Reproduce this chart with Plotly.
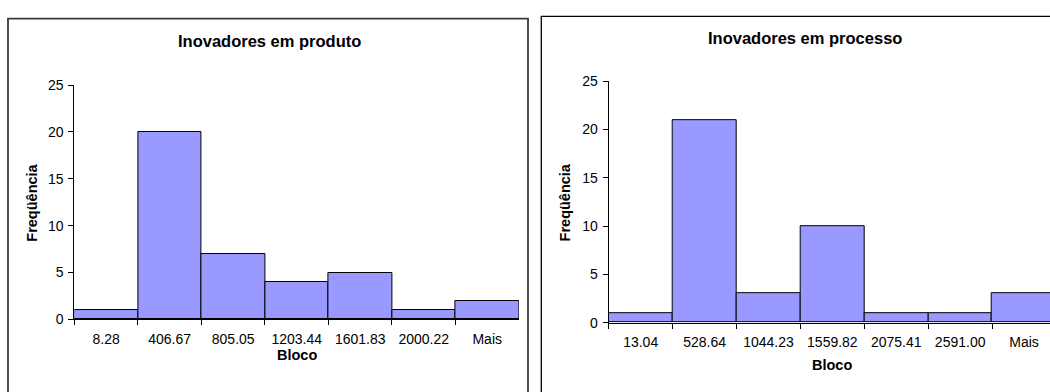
import plotly.graph_objects as go

# ---- data ----
blocos_produto = ["8.28", "406.67", "805.05", "1203.44", "1601.83", "2000.22", "Mais"]
freq_produto = [1, 20, 7, 4, 5, 1, 2]

blocos_processo = ["13.04", "528.64", "1044.23", "1559.82", "2075.41", "2591.00", "Mais"]
freq_processo = [1, 21, 3, 10, 1, 1, 3]

titulo_produto = "Inovadores em produto"
titulo_processo = "Inovadores em processo"
x_label = "Bloco"
y_label = "Freqüência"
y_ticks = [0, 5, 10, 15, 20, 25]

W, H = 1050, 392
FONT = "Liberation Sans, Arial, sans-serif"
BAR = "#9999FF"


def px(x):
    return x / W


def py(y):
    return (H - y) / H


fig = go.Figure()
fig.add_trace(go.Bar(x=blocos_produto, y=freq_produto, xaxis="x", yaxis="y",
                     marker=dict(color=BAR, line=dict(color="black", width=1)),
                     width=1, showlegend=False, hoverinfo="x+y"))
fig.add_trace(go.Bar(x=blocos_processo, y=freq_processo, xaxis="x2", yaxis="y2",
                     marker=dict(color=BAR, line=dict(color="black", width=1)),
                     width=1, showlegend=False, hoverinfo="x+y"))

xcommon = dict(type="category", tickson="boundaries", ticks="outside", ticklen=5,
               tickcolor="black", showline=True, linecolor="black", linewidth=1,
               showgrid=False, zeroline=False, fixedrange=True, ticklabelstandoff=7,
               tickfont=dict(family=FONT, size=14, color="black"))
ycommon = dict(range=[0, 25], tickvals=y_ticks, ticks="outside", ticklen=5,
               tickcolor="black", showline=True, linecolor="black", linewidth=1,
               showgrid=False, zeroline=False, fixedrange=True, ticklabelstandoff=2,
               tickfont=dict(family=FONT, size=14, color="black"))
yinner = dict(range=[0, 25], tickvals=y_ticks, ticks="inside", ticklen=4,
              tickcolor="black", showline=False, showgrid=False, zeroline=False,
              showticklabels=False, fixedrange=True)

fig.update_layout(
    width=W, height=H,
    margin=dict(l=0, r=0, t=0, b=0),
    paper_bgcolor="white", plot_bgcolor="white",
    bargap=0,
    font=dict(family=FONT, color="black"),
    xaxis=dict(domain=[px(74.4), px(519)], range=[-0.5, 6.5], anchor="y", **xcommon),
    yaxis=dict(domain=[py(324.7), py(80.3)], anchor="x", **ycommon),
    xaxis2=dict(domain=[px(608.7), 1.0], range=[-0.5, 6.406], anchor="y2", **xcommon),
    yaxis2=dict(domain=[py(328), py(76.3)], anchor="x2", **ycommon),
    yaxis3=dict(overlaying="y", anchor="x", side="left", **yinner),
    yaxis4=dict(overlaying="y2", anchor="x2", side="left", **yinner),
)

# chart frames
fig.add_shape(type="rect", xref="paper", yref="paper",
              x0=px(8), x1=px(528), y0=-0.05, y1=py(11),
              line=dict(color="#3a3a3a", width=1.8), fillcolor="rgba(0,0,0,0)", layer="below")
fig.add_shape(type="rect", xref="paper", yref="paper",
              x0=px(541.3), x1=1.05, y0=-0.05, y1=py(8.7),
              line=dict(color="black", width=1.3), fillcolor="rgba(0,0,0,0)", layer="below")


def ann(text, x, y, size, angle=0):
    fig.add_annotation(text=text, x=px(x), y=py(y), xref="paper", yref="paper",
                       showarrow=False, textangle=angle, xanchor="center", yanchor="middle",
                       font=dict(family=FONT, size=size, color="black"))


ann("<b>" + titulo_produto + "</b>", 269.5, 34, 16.5)
ann("<b>" + x_label + "</b>", 296.7, 362, 14.5)
ann("<b>" + y_label + "</b>", 32, 203, 14.5, -90)

ann("<b>" + titulo_processo + "</b>", 804.5, 31.7, 16.5)
ann("<b>" + x_label + "</b>", 831.8, 371.7, 14.5)
ann("<b>" + y_label + "</b>", 565.2, 202.5, 14.5, -90)

page_css = (
    "document.documentElement.style.margin='0';"
    "document.documentElement.style.overflow='hidden';"
    "document.body.style.margin='0';"
    "document.body.style.overflow='hidden';"
)
fig.write_html("out.html", post_script=page_css, config=dict(displayModeBar=False))
